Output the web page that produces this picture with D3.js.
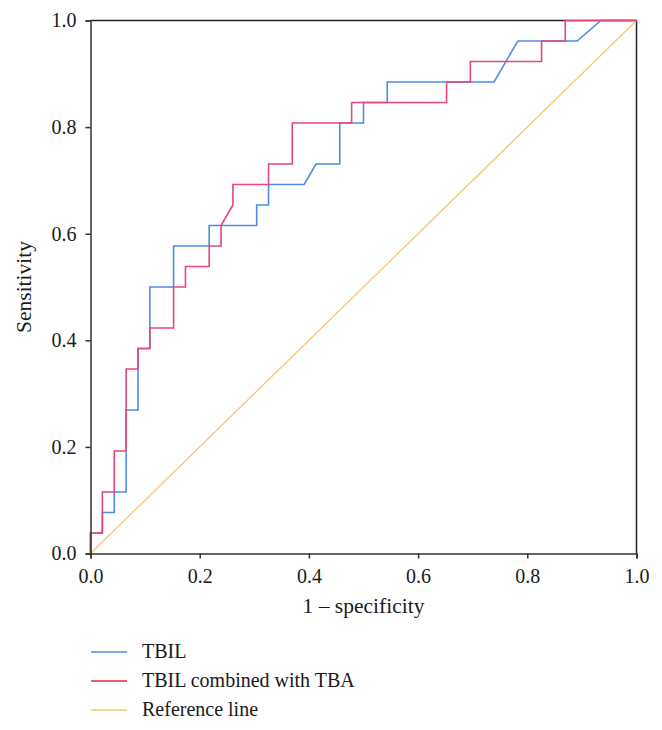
<!DOCTYPE html>
<html>
<head>
<meta charset="utf-8">
<script src="https://cdn.jsdelivr.net/npm/d3@7"></script>
<style>
  body { margin: 0; background: #fff; }
  text { font-family: "Liberation Serif", "Times New Roman", serif; fill: #1a1a1a; }
</style>
</head>
<body>
<svg id="chart" width="662" height="730"></svg>
<script>
// ROC curves: x = 1 - specificity (in units of 1/46), y = sensitivity (in units of 1/26)
const nNeg = 46, nPos = 26;
const tbilFpr = [0,0,1,1,2,2,3,3,4,4,5,5,7,7,10,10,14,14,15,15,18,19,21,21,23,23,25,25,34,36,41,43,46];
const tbilTpr = [0,1,1,2,2,3,3,7,7,10,10,13,13,15,15,16,16,17,17,18,18,19,19,21,21,22,22,23,23,25,25,26,26];
const combFpr = [0,0,1,1,2,2,3,3,4,4,5,5,7,7,8,8,10,10,11,11,12,12,15,15,17,17,22,22,30,30,32,32,38,38,40,40,46];
const combTpr = [0,1,1,3,3,5,5,9,9,10,10,11,11,13,13,14,14,15,15,16,17,18,18,19,19,21,21,22,22,23,23,24,24,25,25,26,26];
const refX = [0, 1];
const refY = [0, 1];
const xTicks = [0, 0.2, 0.4, 0.6, 0.8, 1.0];
const yTicks = [0, 0.2, 0.4, 0.6, 0.8, 1.0];
const seriesNames = ["TBIL", "TBIL combined with TBA", "Reference line"];
const lineColors = ["#4a8ce8", "#e8467c", "#f5c76e"];
const legendColors = ["#4a8ce8", "#e0302f", "#f5c76e"];

const svg = d3.select("#chart");
const mLeft = 90.5, mRight = 636.5, mTop = 20.5, mBottom = 553.5;
const x = d3.scaleLinear().domain([0, 1]).range([mLeft, mRight]);
const y = d3.scaleLinear().domain([0, 1]).range([mBottom, mTop]);

// frame (top/right)
svg.append("path")
  .attr("d", `M${mLeft},${mTop}H${mRight}V${mBottom}`)
  .attr("fill", "none").attr("stroke", "#222").attr("stroke-width", 1.5);

const line = d3.line().x(d => x(d[0])).y(d => y(d[1]));

const ref = refX.map((v, i) => [v, refY[i]]);
const tbil = tbilFpr.map((v, i) => [v / nNeg, tbilTpr[i] / nPos]);
const comb = combFpr.map((v, i) => [v / nNeg, combTpr[i] / nPos]);

svg.append("path").attr("d", line(ref)).attr("fill", "none")
  .attr("stroke", lineColors[2]).attr("stroke-width", 1.3);
svg.append("path").attr("d", line(tbil)).attr("fill", "none")
  .attr("stroke", lineColors[0]).attr("stroke-width", 1.6);
svg.append("path").attr("d", line(comb)).attr("fill", "none")
  .attr("stroke", lineColors[1]).attr("stroke-width", 1.6);

// axes
const fmt = d3.format(".1f");
const gx = svg.append("g").attr("transform", `translate(0,${mBottom})`)
  .call(d3.axisBottom(x).tickValues(xTicks).tickFormat(fmt).tickSize(5).tickPadding(10));
const gy = svg.append("g").attr("transform", `translate(${mLeft},0)`)
  .call(d3.axisLeft(y).tickValues(yTicks).tickFormat(fmt).tickSize(5).tickPadding(9));
[gx, gy].forEach(g => {
  g.attr("font-family", null);
  g.select(".domain").attr("stroke", "#333").attr("stroke-width", 1.5);
  g.selectAll(".tick line").attr("stroke", "#333").attr("stroke-width", 1.5);
  g.selectAll(".tick text").attr("font-size", 20).attr("fill", "#1a1a1a")
    .style("font-family", '"Liberation Serif", serif');
});

svg.append("text").attr("x", 363.5).attr("y", 613)
  .attr("text-anchor", "middle").attr("font-size", 21.5).text("1 \u2013 specificity");
svg.append("text").attr("transform", `translate(31,${(mTop + mBottom) / 2}) rotate(-90)`)
  .attr("text-anchor", "middle").attr("font-size", 21.5).text("Sensitivity");

// legend
const legY = [652, 681, 710];
const lg = svg.append("g");
seriesNames.forEach((name, i) => {
  lg.append("line").attr("x1", 91).attr("x2", 127).attr("y1", legY[i]).attr("y2", legY[i])
    .attr("stroke", legendColors[i]).attr("stroke-width", 1.6);
  lg.append("text").attr("x", 142).attr("y", legY[i] + 5.5).attr("font-size", 20).text(name);
});
</script>
</body>
</html>
